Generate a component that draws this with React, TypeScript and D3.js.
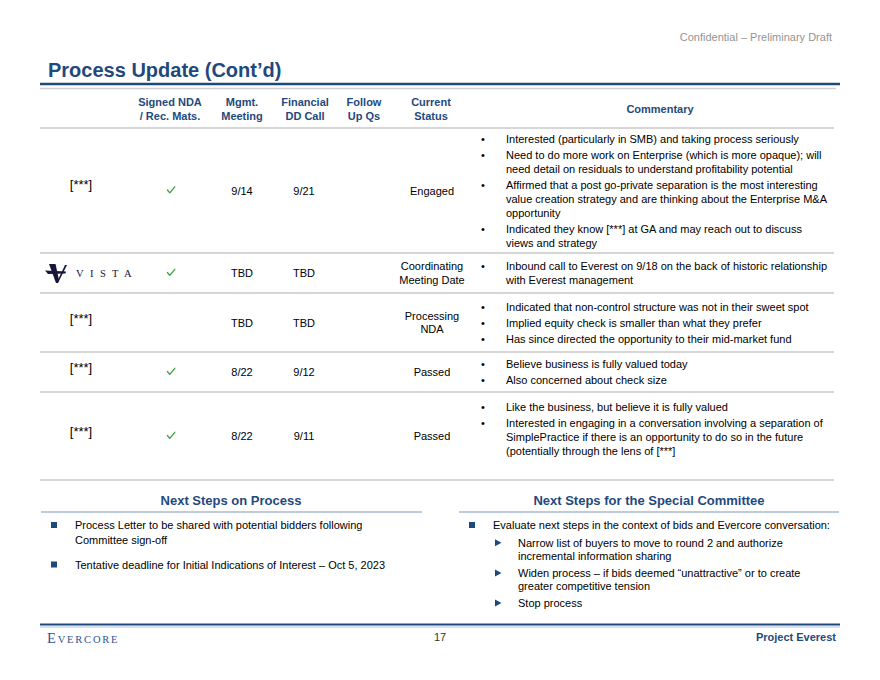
import React from "react";
import * as d3 from "d3";

// ---------- DATA ----------
const columnHeaders: string[][] = [
  ["Signed NDA", "/ Rec. Mats."],
  ["Mgmt.", "Meeting"],
  ["Financial", "DD Call"],
  ["Follow", "Up Qs"],
  ["Current", "Status"],
];
const commentaryHeader = "Commentary";

const companies = ["[***]", "VISTA", "[***]", "[***]", "[***]"];
const signedNDA = [true, true, false, true, true];
const mgmtMeeting = ["9/14", "TBD", "TBD", "8/22", "8/22"];
const ddCall = ["9/21", "TBD", "TBD", "9/12", "9/11"];
const followUpQs = ["", "", "", "", ""];
const currentStatus: string[][] = [
  ["Engaged"],
  ["Coordinating", "Meeting Date"],
  ["Processing", "NDA"],
  ["Passed"],
  ["Passed"],
];
const commentary: string[][][] = [
  [
    ["Interested (particularly in SMB) and taking process seriously"],
    [
      "Need to do more work on Enterprise (which is more opaque); will",
      "need detail on residuals to understand profitability potential",
    ],
    [
      "Affirmed that a post go-private separation is the most interesting",
      "value creation strategy and are thinking about the Enterprise M&A",
      "opportunity",
    ],
    [
      "Indicated they know [***] at GA and may reach out to discuss",
      "views and strategy",
    ],
  ],
  [
    [
      "Inbound call to Everest on 9/18 on the back of historic relationship",
      "with Everest management",
    ],
  ],
  [
    ["Indicated that non-control structure was not in their sweet spot"],
    ["Implied equity check is smaller than what they prefer"],
    ["Has since directed the opportunity to their mid-market fund"],
  ],
  [["Believe business is fully valued today"], ["Also concerned about check size"]],
  [
    ["Like the business, but believe it is fully valued"],
    [
      "Interested in engaging in a conversation involving a separation of",
      "SimplePractice if there is an opportunity to do so in the future",
      "(potentially through the lens of [***]",
      "",
    ],
  ],
];

const nextStepsProcessTitle = "Next Steps on Process";
const nextStepsProcess: string[][] = [
  ["Process Letter to be shared with potential bidders following", "Committee sign-off"],
  ["Tentative deadline for Initial Indications of Interest \u2013 Oct 5, 2023"],
];
const nextStepsCommitteeTitle = "Next Steps for the Special Committee";
const nextStepsCommitteeMain = "Evaluate next steps in the context of bids and Evercore conversation:";
const nextStepsCommitteeSub: string[][] = [
  ["Narrow list of buyers to move to round 2 and authorize", "incremental information sharing"],
  ["Widen process \u2013 if bids deemed \u201cunattractive\u201d or to create", "greater competitive tension"],
  ["Stop process"],
];

const pageTitle = "Process Update (Cont\u2019d)";
const confidential = "Confidential \u2013 Preliminary Draft";
const pageNumber = "17";
const projectName = "Project Everest";

// ---------- LAYOUT ----------
const W = 880;
const H = 680;
const BLUE = "#1F497D";
const SANS = "'Liberation Sans', Arial, Helvetica, sans-serif";
const SERIF = "'Liberation Serif', 'Times New Roman', serif";
const tableTop = 128;
const rowHeights = [125, 40, 59, 40, 88];
const colX = { name: 81, nda: 171, mgmt: 242, dd: 304, follow: 364, status: 432 };
const headerX = [170, 242, 305, 364, 431];
const commentaryHeaderX = 660;
const bulletX = 483;
const textX = 506;
const LINE = 14;
const PARA = 16;

function Check({ cx, cy }: { cx: number; cy: number }) {
  const p = d3.path();
  p.moveTo(cx - 3.6, cy);
  p.lineTo(cx - 1.2, cy + 2.8);
  p.lineTo(cx + 3.8, cy - 3.2);
  return <path d={p.toString()} fill="none" stroke="#3BA043" strokeWidth={1.3} strokeLinecap="round" strokeLinejoin="round" />;
}

function VistaLogo({ x, cy }: { x: number; cy: number }) {
  const top = cy - 9;
  const left = x;
  const thick = d3.path();
  thick.moveTo(left + 4, top);
  thick.lineTo(left + 10.5, top);
  thick.lineTo(left + 14, top + 16);
  thick.lineTo(left + 12.5, top + 19);
  thick.lineTo(left + 11, top + 19);
  thick.closePath();
  const thin = d3.path();
  thin.moveTo(left + 11.5, top + 19);
  thin.lineTo(left + 13, top + 19);
  thin.lineTo(left + 22, top + 1);
  thin.lineTo(left + 20, top + 1);
  thin.closePath();
  const bar = d3.path();
  bar.moveTo(left, top + 6.5);
  bar.lineTo(left + 21, top + 7.5);
  bar.lineTo(left + 20.5, top + 9.5);
  bar.lineTo(left + 3, top + 10);
  bar.closePath();
  return (
    <g fill="#14163A">
      <path d={thick.toString()} />
      <path d={thin.toString()} />
      <path d={bar.toString()} />
      <text x={left + 31} y={cy + 4} fontFamily={SERIF} fontSize={10.5} letterSpacing={6.4} fill="#14163A">
        VISTA
      </text>
    </g>
  );
}

export default function App() {
  const edges = [tableTop, ...Array.from(d3.cumsum(rowHeights), (v) => v + tableTop)];
  const rowCenters = rowHeights.map((h, i) => edges[i] + h / 2);

  return (
    <svg
      width={W}
      height={H}
      viewBox={`0 0 ${W} ${H}`}
      style={{ position: "absolute", left: 0, top: 0, background: "#fff" }}
      fontFamily={SANS}
    >
      <rect x={0} y={0} width={W} height={H} fill="#fff" />
      {/* header */}
      <text x={832} y={41} textAnchor="end" fontSize={11} fill="#949494">
        {confidential}
      </text>
      <text x={48} y={77} fontSize={20} fontWeight="bold" fill={BLUE}>
        {pageTitle}
      </text>
      <line x1={40} x2={840} y1={84} y2={84} stroke={BLUE} strokeWidth={2.5} />
      <line x1={40} x2={836} y1={88.5} y2={88.5} stroke="#D0D0D0" strokeWidth={1.5} />

      {/* column headers */}
      {columnHeaders.map((lines, i) =>
        lines.map((t, j) => (
          <text key={`h${i}-${j}`} x={headerX[i]} y={106 + j * 14} textAnchor="middle" fontSize={11} fontWeight="bold" fill={BLUE}>
            {t}
          </text>
        ))
      )}
      <text x={commentaryHeaderX} y={113} textAnchor="middle" fontSize={11} fontWeight="bold" fill={BLUE}>
        {commentaryHeader}
      </text>

      {/* table lines */}
      {edges.map((y, i) => (
        <line key={`tl${i}`} x1={40} x2={834} y1={y} y2={y} stroke="#D6D6D6" strokeWidth={2} />
      ))}

      {/* rows */}
      {companies.map((name, i) => {
        const cy = rowCenters[i];
        const status = currentStatus[i];
        const bullets = commentary[i];
        const items: { text: string; first: boolean; y: number }[] = [];
        let off = 0;
        bullets.forEach((b, bi) => {
          if (bi > 0) off += PARA;
          b.forEach((ln, li) => {
            if (li > 0) off += LINE;
            items.push({ text: ln, first: li === 0, y: off });
          });
        });
        const startY = cy - off / 2;
        return (
          <g key={`row${i}`}>
            {name === "VISTA" ? (
              <VistaLogo x={45} cy={cy} />
            ) : (
              <text x={colX.name} y={cy - (i === 0 ? 5 : 3) + 3.4} textAnchor="middle" fontSize={13} fill="#000">
                {name}
              </text>
            )}
            {signedNDA[i] && <Check cx={colX.nda} cy={cy - 0.5} />}
            <text x={colX.mgmt} y={cy + 4} textAnchor="middle" fontSize={11}>
              {mgmtMeeting[i]}
            </text>
            <text x={colX.dd} y={cy + 4} textAnchor="middle" fontSize={11}>
              {ddCall[i]}
            </text>
            <text x={colX.follow} y={cy + 4} textAnchor="middle" fontSize={11}>
              {followUpQs[i]}
            </text>
            {status.map((s, k) => (
              <text key={`s${k}`} x={colX.status} y={cy + 4 + (k - (status.length - 1) / 2) * 13.5} textAnchor="middle" fontSize={11}>
                {s}
              </text>
            ))}
            {items.map((it, k) => (
              <g key={`c${k}`}>
                {it.first && (
                  <text x={bulletX} y={startY + it.y + 4} fontSize={11} textAnchor="middle">
                    {"\u2022"}
                  </text>
                )}
                <text x={textX} y={startY + it.y + 4} fontSize={11}>
                  {it.text}
                </text>
              </g>
            ))}
          </g>
        );
      })}

      {/* Next steps on process */}
      <text x={231} y={505} textAnchor="middle" fontSize={13} fontWeight="bold" fill={BLUE}>
        {nextStepsProcessTitle}
      </text>
      <line x1={41} x2={422} y1={512} y2={512} stroke="#7F97B8" strokeWidth={1} />
      {(() => {
        let y = 525;
        const out: JSX.Element[] = [];
        nextStepsProcess.forEach((b, bi) => {
          if (bi > 0) y += 25;
          out.push(<rect key={`ps${bi}`} x={51} y={y - 3} width={6} height={6} fill={BLUE} />);
          b.forEach((ln, li) => {
            if (li > 0) y += 14.5;
            out.push(
              <text key={`pt${bi}-${li}`} x={75} y={y + 4} fontSize={11}>
                {ln}
              </text>
            );
          });
        });
        return out;
      })()}

      {/* Next steps for committee */}
      <text x={649} y={505} textAnchor="middle" fontSize={13} fontWeight="bold" fill={BLUE}>
        {nextStepsCommitteeTitle}
      </text>
      <line x1={459} x2={839} y1={512} y2={512} stroke="#7F97B8" strokeWidth={1} />
      <rect x={469} y={522} width={6} height={6} fill={BLUE} />
      <text x={493} y={529} fontSize={11}>
        {nextStepsCommitteeMain}
      </text>
      {(() => {
        let y = 542.7;
        const out: JSX.Element[] = [];
        nextStepsCommitteeSub.forEach((b, bi) => {
          if (bi > 0) y += 16.7;
          const tri = d3.path();
          tri.moveTo(495, y - 3.5);
          tri.lineTo(501.5, y);
          tri.lineTo(495, y + 3.5);
          tri.closePath();
          out.push(<path key={`ct${bi}`} d={tri.toString()} fill={BLUE} />);
          b.forEach((ln, li) => {
            if (li > 0) y += 13.5;
            out.push(
              <text key={`cs${bi}-${li}`} x={518} y={y + 4} fontSize={11}>
                {ln}
              </text>
            );
          });
        });
        return out;
      })()}

      {/* footer */}
      <line x1={40} x2={840} y1={624.5} y2={624.5} stroke={BLUE} strokeWidth={2} />
      <line x1={40} x2={840} y1={627} y2={627} stroke="#AFC0D8" strokeWidth={1} />
      <text x={47} y={643} fontFamily={SERIF} fill="#2E5395" letterSpacing={1.8}>
        <tspan fontSize={14.5}>E</tspan>
        <tspan fontSize={10.5}>VERCORE</tspan>
      </text>
      <text x={440} y={641} textAnchor="middle" fontSize={11} fill="#333">
        {pageNumber}
      </text>
      <text x={836} y={641} textAnchor="end" fontSize={11} fontWeight="bold" fill={BLUE}>
        {projectName}
      </text>
    </svg>
  );
}
